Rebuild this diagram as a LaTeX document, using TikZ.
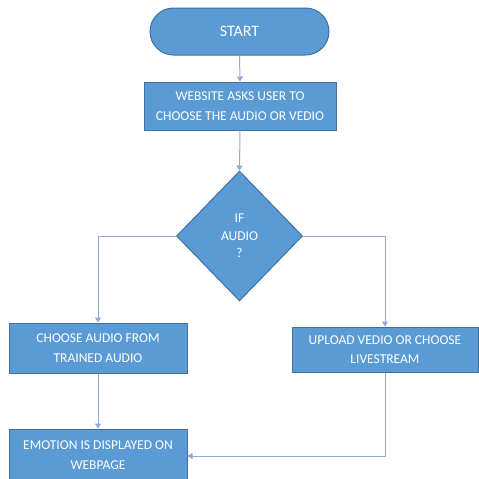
\documentclass[tikz,border=0pt]{standalone}
\usepackage{fontspec}
\setmainfont{Carlito}
\usetikzlibrary{shapes.geometric,arrows.meta}
\definecolor{boxfill}{HTML}{5B9BD5}
\definecolor{boxline}{HTML}{41719C}
\definecolor{conn}{HTML}{8EA9DB}
\begin{document}
\begin{tikzpicture}[x=1pt,y=-1pt,
  blk/.style={draw=boxline,fill=boxfill,line width=1pt,text=white,align=center,
    font=\fontsize{13.5}{19.5}\selectfont,inner sep=0pt},
  conline/.style={draw=conn,line width=1pt,-{Triangle[width=6pt,length=5pt]}}]
\useasboundingbox (0,0) rectangle (479,479);
\node[blk,rounded corners=23.5pt,minimum width=179pt,minimum height=47pt,
  font=\fontsize{16}{18}\selectfont] (start) at (239.5,31.5) {START};
\node[blk,minimum width=192pt,minimum height=48pt] (ask) at (240,106)
  {WEBSITE ASKS USER TO\\CHOOSE THE AUDIO OR VEDIO};
\node[blk,diamond,minimum width=126pt,minimum height=130pt,
  font=\fontsize{13.5}{17.5}\selectfont] (dec) at (239.5,236) {IF\\AUDIO\\?};
\node[blk,minimum width=178pt,minimum height=50pt] (left) at (98,348)
  {CHOOSE AUDIO FROM\\TRAINED AUDIO};
\node[blk,minimum width=186pt,minimum height=45pt] (right) at (385,349.5)
  {UPLOAD VEDIO OR CHOOSE\\LIVESTREAM};
\node[blk,minimum width=178pt,minimum height=52pt] (out) at (98,455)
  {EMOTION IS DISPLAYED ON\\WEBPAGE};
\draw[conline] (start.south) -- (ask.north);
\draw[conline] (ask.south) -- (dec.north);
\draw[conline] (dec.west) -| (left.north);
\draw[conline] (dec.east) -| (right.north);
\draw[conline] (left.south) -- (out.north);
\draw[conline] (right.south) |- ([yshift=-1pt]out.east);
\end{tikzpicture}
\end{document}
